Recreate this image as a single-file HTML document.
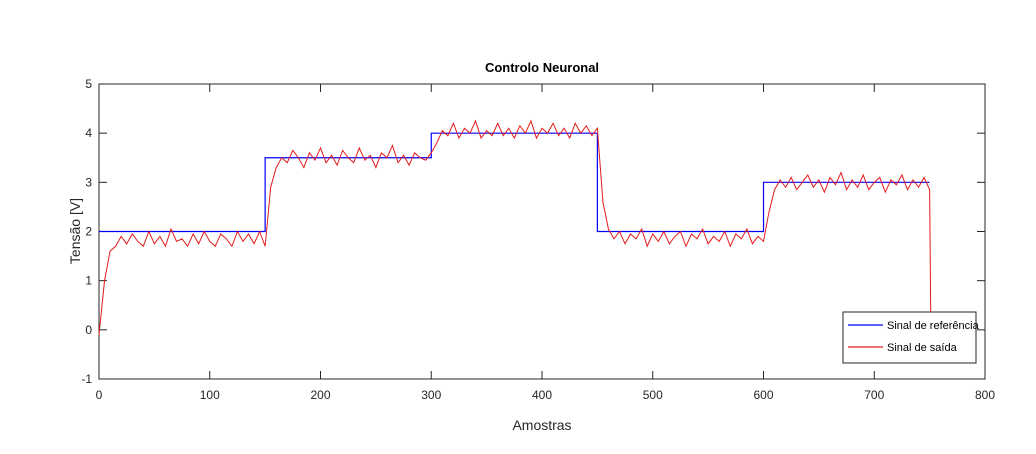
<!DOCTYPE html>
<html><head><meta charset="utf-8"><style>
html,body{margin:0;padding:0;background:#fff;}
svg{display:block;font-family:"Liberation Sans",sans-serif;}
</style></head><body>
<svg id="chart" width="1036" height="454"></svg>
<script>
const refX=[0,150,150,300,300,450,450,600,600,750];
const refY=[2,2,3.5,3.5,4,4,2,2,3,3];
const outStep=5;
const outY=[-0.1,1.0,1.6,1.7,1.9,1.75,1.95,1.8,1.7,2.0,1.75,1.9,1.7,2.05,1.8,1.85,1.7,1.95,1.75,2.0,1.8,1.7,1.95,1.85,1.7,2.0,1.8,1.95,1.75,2.0,1.7,
2.9,3.3,3.5,3.4,3.65,3.5,3.3,3.6,3.45,3.7,3.4,3.55,3.35,3.65,3.5,3.4,3.7,3.45,3.55,3.3,3.6,3.5,3.75,3.4,3.55,3.35,3.6,3.5,3.45,3.6,
3.8,4.05,3.95,4.2,3.9,4.1,4.0,4.25,3.9,4.05,3.95,4.2,3.95,4.1,3.9,4.15,4.0,4.25,3.9,4.1,4.0,4.2,3.95,4.1,3.9,4.2,4.0,4.15,3.95,4.1,
2.6,2.05,1.85,2.0,1.75,1.95,1.85,2.05,1.7,1.95,1.8,2.0,1.75,1.9,2.0,1.7,1.95,1.85,2.05,1.75,1.9,1.8,2.0,1.7,1.95,1.85,2.05,1.75,1.9,1.8,
2.4,2.85,3.05,2.9,3.1,2.85,3.0,3.15,2.9,3.05,2.8,3.1,2.95,3.2,2.85,3.05,2.9,3.15,2.85,3.0,3.1,2.8,3.05,2.95,3.15,2.85,3.05,2.9,3.1,2.85];
const outEndX=751, outEndY=0.3;
const xTicks=[0,100,200,300,400,500,600,700,800];
const yTicks=[-1,0,1,2,3,4,5];

const L=99,R=985,T=84,B=379;
const sx=v=>L+(v-0)/800*(R-L);
const sy=v=>B-(v+1)/6*(B-T);
const svg=document.getElementById('chart');
const NS='http://www.w3.org/2000/svg';
function mk(tag,attrs,parent){const e=document.createElementNS(NS,tag);for(const k in attrs)e.setAttribute(k,attrs[k]);(parent||svg).appendChild(e);return e;}

let e=mk('rect',{x:L,y:T,width:R-L,height:B-T,fill:'#fff',stroke:'#262626','stroke-width':1});



xTicks.forEach(v=>{
  const x=sx(v);
  mk('line',{x1:x,y1:B,x2:x,y2:B-8,stroke:'#262626'});
  mk('line',{x1:x,y1:T,x2:x,y2:T+8,stroke:'#262626'});
  const t=mk('text',{x:x,y:B+20,'text-anchor':'middle','font-size':12,fill:'#262626'});
  t.textContent=v;
  
  
});
yTicks.forEach(v=>{
  const y=sy(v);
  mk('line',{x1:L,y1:y,x2:L+8,y2:y,stroke:'#262626'});
  mk('line',{x1:R,y1:y,x2:R-8,y2:y,stroke:'#262626'});
  const t=mk('text',{x:L-7,y:y+4,'text-anchor':'end','font-size':12,fill:'#262626'});
  t.textContent=v;
  
  
});

let p=refX.map((v,i)=>sx(v)+','+sy(refY[i])).join(' ');
e=mk('polyline',{points:p,fill:'none',stroke:'#0000ff','stroke-width':1.2});



let pts=outY.map((v,i)=>sx(i*outStep)+','+sy(v));
pts.push(sx(outEndX)+','+sy(outEndY));
e=mk('polyline',{points:pts.join(' '),fill:'none',stroke:'#e31a1c','stroke-width':1});



e=mk('text',{x:542,y:72,'text-anchor':'middle','font-size':13,'font-weight':'bold',fill:'#000'});
e.textContent='Controlo Neuronal';


e=mk('text',{x:542,y:430,'text-anchor':'middle','font-size':14,fill:'#262626'});
e.textContent='Amostras';


e=mk('text',{x:80,y:231,'text-anchor':'middle','font-size':14,fill:'#262626',transform:'rotate(-90 80 231)'});
e.textContent='Tensão [V]';



const lg=mk('g',{});


mk('rect',{x:843,y:312,width:133,height:51,fill:'#fff',stroke:'#262626'},lg);
mk('line',{x1:848,y1:325,x2:883,y2:325,stroke:'#0000ff','stroke-width':1.2},lg);
mk('line',{x1:848,y1:347,x2:883,y2:347,stroke:'#e31a1c','stroke-width':1.2},lg);
e=mk('text',{x:887,y:329,'font-size':11,fill:'#000'},lg);
e.textContent='Sinal de referência';


e=mk('text',{x:887,y:351,'font-size':11,fill:'#000'},lg);
e.textContent='Sinal de saída';


</script>
</body></html>
